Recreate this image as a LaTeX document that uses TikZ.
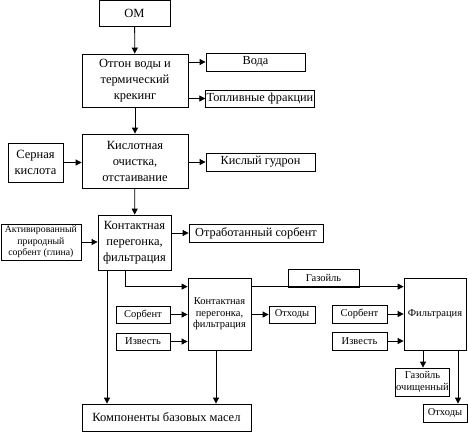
\documentclass[tikz,border=0pt]{standalone}
\usepackage{fontspec}
\setmainfont{Liberation Serif}
\usetikzlibrary{arrows.meta}

\tikzset{
    blk/.style={draw, line width=0.8pt, align=center, inner sep=1pt, anchor=center},
    bigblk/.style={blk, font=\fontsize{12.5}{16}\selectfont},
    midblk/.style={blk, font=\fontsize{12.3}{14}\selectfont},
    smallblk/.style={blk, font=\fontsize{10.5}{11.5}\selectfont},
    flow/.style={line width=0.8pt, -{Triangle[length=6pt,width=6pt]}},
}

\begin{document}
\begin{tikzpicture}[x=1pt,y=-1pt]
    \useasboundingbox (0,0) rectangle (468,432);

    \node[bigblk, minimum width=71pt, minimum height=26pt] (om) at (134.5,13) {ОМ};
    \node[bigblk, minimum width=106pt, minimum height=53pt] (otgon) at (135,80.5) {Отгон воды и\\термический\\крекинг};
    \node[midblk, minimum width=99pt, minimum height=18pt] (voda) at (255.5,62) {Вода};
    \node[midblk, minimum width=108pt, minimum height=17pt] (topl) at (260,98.5) {Топливные фракции};
    \node[bigblk, minimum width=106pt, minimum height=54pt] (kisl) at (135,161) {Кислотная\\очистка,\\отстаивание};
    \node[bigblk, minimum width=55pt, minimum height=39pt] (sern) at (35.5,162.5) {Серная\\кислота};
    \node[midblk, minimum width=109pt, minimum height=18pt] (gudron) at (260.5,162) {Кислый гудрон};
    \node[bigblk, minimum width=73pt, minimum height=55pt] (kont) at (134.5,242.5) {Контактная\\перегонка,\\фильтрация};
    \node[smallblk, font=\fontsize{9.8}{11.5}\selectfont, minimum width=80pt, minimum height=36pt] (aktiv) at (40.9,242) {Активированный\\природный\\сорбент (глина)};
    \node[midblk, minimum width=134pt, minimum height=18pt] (otrab) at (256,233) {Отработанный сорбент};

%second stage
    \node[smallblk, minimum width=63pt, minimum height=72pt] (kont2) at (219.5,314) {Контактная\\перегонка,\\фильтрация};
    \node[smallblk, minimum width=54pt, minimum height=17pt] (sorb1) at (143,314.5) {Сорбент};
    \node[smallblk, minimum width=54pt, minimum height=17pt] (izv1) at (143,341.5) {Известь};
    \node[smallblk, minimum width=46pt, minimum height=17pt] (oth1) at (292,314.5) {Отходы};
    \node[bigblk, minimum width=169pt, minimum height=27pt] (komp) at (166.5,417.5) {Компоненты базовых масел};

%third stage
    \node[smallblk, minimum width=71pt, minimum height=18pt] (gaz) at (323.5,278) {Газойль};
    \node[smallblk, minimum width=62pt, minimum height=72pt] (filtr) at (435,314) {Фильтрация};
    \node[smallblk, minimum width=55pt, minimum height=18pt] (sorb2) at (359.5,314) {Сорбент};
    \node[smallblk, minimum width=55pt, minimum height=18pt] (izv2) at (359.5,341) {Известь};
    \node[smallblk, minimum width=53pt, minimum height=28pt] (gazoch) at (422.5,382) {Газойль\\очищенный};
    \node[smallblk, minimum width=44pt, minimum height=18pt] (oth2) at (445,413) {Отходы};

%arrows
    \draw[flow] (om) -- (otgon);
    \draw[flow] (otgon.east |- voda.west) -- (voda.west);
    \draw[flow] (otgon.east |- topl.west) -- (topl.west);
    \draw[flow] (otgon) -- (kisl);
    \draw[flow] (sern.east) -- (sern.east -| kisl.west);
    \draw[flow] (kisl.east |- gudron.west) -- (gudron.west);
    \draw[flow] (kisl) -- (kont);
    \draw[flow] (aktiv.east) -- (aktiv.east -| kont.west);
    \draw[flow] (kont.east |- otrab.west) -- (otrab.west);
    \draw[flow] ([xshift=-9.5pt]kont.south) |- ([yshift=-9pt]kont2.north west);
    \draw[flow] ([xshift=-27.5pt]kont.south) -- ([xshift=-27.5pt]kont.south |- komp.north);
    \draw[flow] (sorb1.east) -- (sorb1.east -| kont2.west);
    \draw[flow] (izv1.east) -- (izv1.east -| kont2.west);
    \draw[flow] (kont2.east |- oth1.west) -- (oth1.west);
    \draw[flow] ([xshift=-3.5pt]kont2.south) -- ([xshift=-3.5pt]kont2.south |- komp.north);
    \draw[flow] ([yshift=-9pt]kont2.north east) -- ([yshift=-9pt]filtr.north west);
    \draw[flow] (sorb2.east) -- (sorb2.east -| filtr.west);
    \draw[flow] (izv2.east) -- (izv2.east -| filtr.west);
    \draw[flow] ([xshift=-12pt]filtr.south) -- ([xshift=-12pt]filtr.south |- gazoch.north);
    \draw[flow] ([xshift=23pt]filtr.south) -- ([xshift=23pt]filtr.south |- oth2.north);
\end{tikzpicture}
\end{document}
